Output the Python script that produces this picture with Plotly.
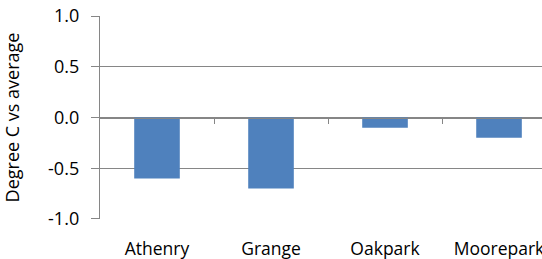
import plotly.graph_objects as go

categories = ["Athenry", "Grange", "Oakpark", "Moorepark"]
values = [-0.6, -0.7, -0.1, -0.2]
y_ticks = [-1.0, -0.5, 0.0, 0.5, 1.0]
y_tick_labels = ["-1.0", "-0.5", "0.0", "0.5", "1.0"]
y_title = "Degree C vs average"

FONT = "Open Sans"
GRID = "#868686"
BAR = "#4f81bd"
xpos = list(range(len(categories)))
xrange = [-0.5, 3.377]

fig = go.Figure()
fig.add_trace(go.Bar(x=xpos, y=values, marker=dict(color=BAR, line=dict(width=0)),
                     width=0.4, hoverinfo="skip", xaxis="x", yaxis="y"))
fig.add_trace(go.Scatter(x=[xrange[0]], y=[0], mode="markers", marker=dict(opacity=0),
                         hoverinfo="skip", showlegend=False, xaxis="x2", yaxis="y"))

fig.update_layout(
    width=542, height=259,
    margin=dict(l=100, r=0, t=16, b=40, autoexpand=False),
    paper_bgcolor="white", plot_bgcolor="white",
    showlegend=False,
    font=dict(family=FONT, size=17, color="#000000"),
    xaxis=dict(range=xrange, tickvals=xpos, ticktext=categories, showgrid=False,
               zeroline=False, showline=False, ticks="", ticklabelstandoff=17,
               tickfont=dict(size=17.5), automargin=False, ticklabeloverflow="allow"),
    xaxis2=dict(range=xrange, overlaying="x", anchor="free", position=0.5,
                side="bottom", tickvals=[0.5, 1.5, 2.5], showticklabels=False,
                ticks="outside", ticklen=5, tickcolor=GRID, tickwidth=1,
                showline=True, linecolor=GRID, linewidth=1.2, showgrid=False,
                zeroline=False, automargin=False),
    yaxis=dict(range=[-1.0001, 1.0001], tickvals=y_ticks, ticktext=y_tick_labels,
               showgrid=True, gridcolor=GRID, gridwidth=1.2, zeroline=False,
               showline=True, linecolor=GRID, linewidth=1.2,
               ticks="outside", ticklen=8, tickcolor=GRID, ticklabelstandoff=8,
               tickfont=dict(size=18), automargin=False, ticklabeloverflow="allow",
               title=dict(text=y_title, font=dict(size=18), standoff=42)),
)

fig.write_html("out.html", config={"displayModeBar": False, "staticPlot": True},
               post_script="document.body.style.margin='0';document.body.style.overflow='hidden';")
